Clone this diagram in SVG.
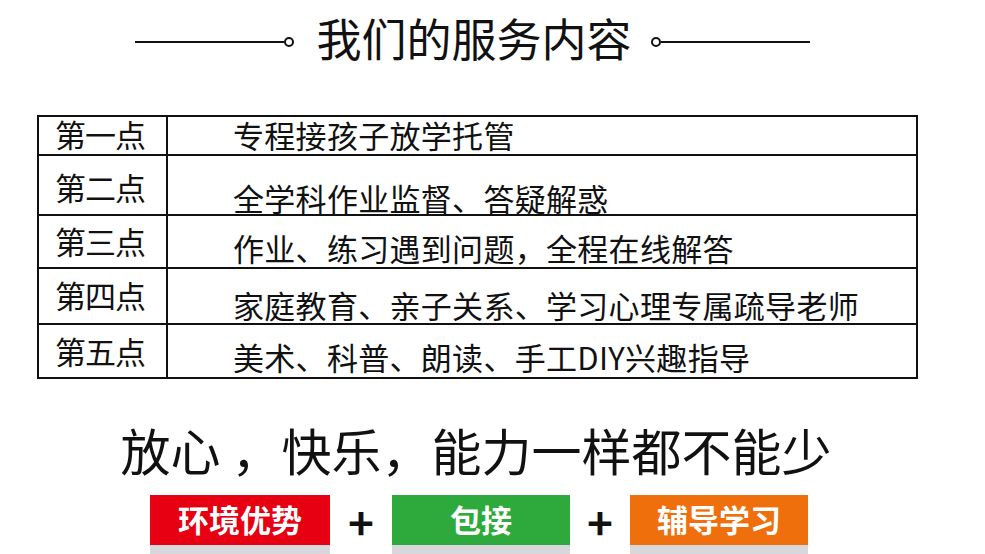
<svg xmlns="http://www.w3.org/2000/svg" width="985" height="554" viewBox="0 0 985 554">
<style>
text{font-family:"Noto Sans CJK SC","Liberation Sans",sans-serif;fill:#111}
.c1{font-size:31px;letter-spacing:-1px}
.c2{font-size:31px;letter-spacing:0.3px}
.ln{stroke:#111;stroke-width:2;fill:none}
.bt{font-size:31px;font-weight:bold;fill:#fff;text-anchor:middle}
.pl{font-size:44px;font-weight:bold;text-anchor:middle}
</style>
<rect width="985" height="554" fill="#fff"/>
<g id="title">
<line class="ln" x1="135" y1="42" x2="284" y2="42"/>
<circle class="ln" cx="289" cy="42" r="4"/>
<text x="474" y="57" font-size="45" text-anchor="middle">我们的服务内容</text>
<circle class="ln" cx="656" cy="42" r="4"/>
<line class="ln" x1="661" y1="42" x2="810" y2="42"/>
</g>
<g id="table">
<rect class="ln" x="38" y="116" width="879" height="262"/>
<line class="ln" x1="167" y1="116" x2="167" y2="378"/>
<line class="ln" x1="38" y1="155" x2="917" y2="155"/>
<line class="ln" x1="38" y1="215" x2="917" y2="215"/>
<line class="ln" x1="38" y1="268" x2="917" y2="268"/>
<line class="ln" x1="38" y1="324" x2="917" y2="324"/>
<text class="c1" x="55" y="147">第一点</text>
<text class="c2" x="233" y="148">专程接孩子放学托管</text>
<text class="c1" x="55" y="200">第二点</text>
<text class="c2" x="233" y="211">全学科作业监督、答疑解惑</text>
<text class="c1" x="55" y="254">第三点</text>
<text class="c2" x="233" y="261">作业、练习遇到问题，全程在线解答</text>
<text class="c1" x="55" y="308">第四点</text>
<text class="c2" x="233" y="318">家庭教育、亲子关系、学习心理专属疏导老师</text>
<text class="c1" x="55" y="364">第五点</text>
<text class="c2" x="233" y="370">美术、科普、朗读、手工DIY兴趣指导</text>
</g>
<g id="slogan"><text x="476" y="471" font-size="50" text-anchor="middle">放心 ，快乐，能力一样都不能少</text></g>
<g id="b1"><rect x="150" y="545" width="180" height="9" fill="#d8d8dc"/><rect x="150" y="495" width="180" height="50" fill="#e60012"/><text class="bt" x="240" y="532">环境优势</text></g>
<g id="p1"><text class="pl" x="361" y="540">+</text></g>
<g id="b2"><rect x="392" y="545" width="178" height="9" fill="#d8d8dc"/><rect x="392" y="495" width="178" height="50" fill="#2eaa3c"/><text class="bt" x="481" y="532">包接</text></g>
<g id="p2"><text class="pl" x="600" y="540">+</text></g>
<g id="b3"><rect x="630" y="545" width="178" height="9" fill="#d8d8dc"/><rect x="630" y="495" width="178" height="50" fill="#ee6f0c"/><text class="bt" x="719" y="532">辅导学习</text></g>
</svg>
